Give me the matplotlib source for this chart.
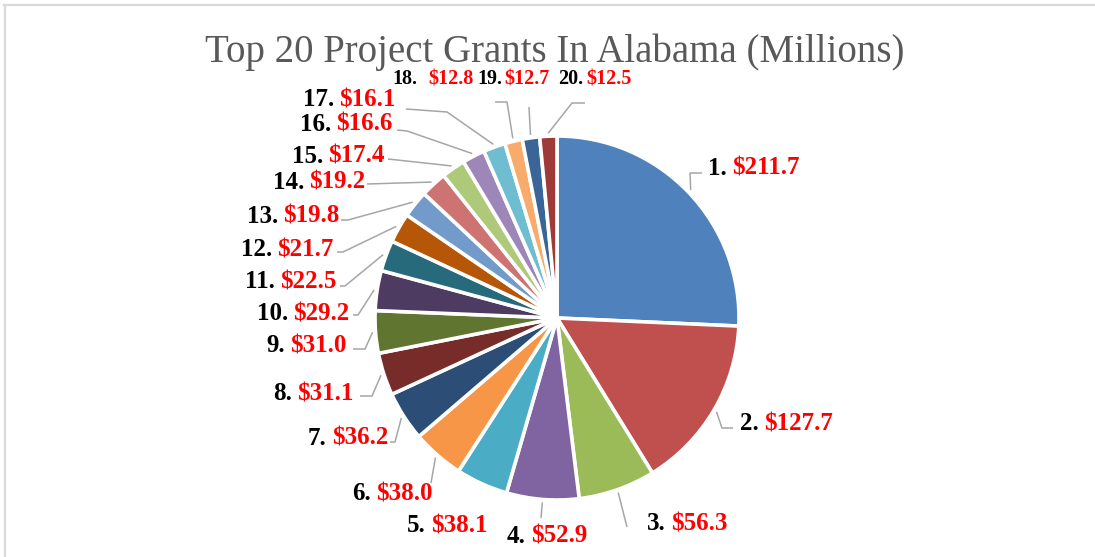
import numpy as np
import matplotlib
matplotlib.use("Agg")
import matplotlib.pyplot as plt
from matplotlib.lines import Line2D

# chart data
ranks = list(range(1, 21))
grants = [211.7, 127.7, 56.3, 52.9, 38.1, 38.0, 36.2, 31.1, 31.0, 29.2,
          22.5, 21.7, 19.8, 19.2, 17.4, 16.6, 16.1, 12.8, 12.7, 12.5]
title = "Top 20 Project Grants In Alabama (Millions)"

colors = ["#4F81BD", "#C0504D", "#9BBB59", "#8064A2", "#4BACC6", "#F79646",
          "#2C4D75", "#772C2A", "#5F7530", "#4D3B62", "#276A7C", "#B65708",
          "#729ACA", "#CD7371", "#AFC97A", "#9C87B8", "#6FBDD1", "#F9AB6B",
          "#3A6597", "#9E3A38"]

# layout (pixel coords, y down)
W, H = 1095, 557
CX, CY, R = 557, 318, 182

# label anchor: x, baseline y, side ('l' = text starts at x, 'r' = text ends at x)
label_pos = [
    (708, 175, "l"), (740, 430, "l"), (647, 530, "l"), (507, 543, "l"),
    (407, 532, "l"), (352, 500, "l"), (388, 445, "r"), (353, 400, "r"),
    (346, 352, "r"), (349, 320, "r"), (336, 288, "r"), (333, 256, "r"),
    (339, 223, "r"), (365, 189, "r"), (385, 163, "r"), (392, 131, "r"),
    (395, 106, "r"), (392, 84, "l"), (477, 84, "l"), (558, 84, "l"),
]
label_gap = [3.5] * 17 + [8, 2, 2]
label_size = [18] * 17 + [14.5] * 3

# leader line points after the start on the slice edge
leaders = [
    [(690, 173), (702, 173)],
    [(722, 428), (733, 428)],
    [(627, 527)],
    [(541, 518)],
    [],
    [(431, 483)],
    [(395, 442), (390, 442)],
    [(372, 396), (360, 396)],
    [(365, 349), (353, 349)],
    [(358, 315), (353, 315)],
    [(345, 286), (340, 286)],
    [(343, 252), (337, 252)],
    [(348, 220), (341, 220)],
    [(367, 184)],
    [(388, 159)],
    [(407, 131), (397, 130)],
    [(447, 112), (406, 109)],
    [(507, 102), (495, 102)],
    [(529, 107)],
    [(572, 103), (585, 103)],
]

fig = plt.figure(figsize=(W / 100, H / 100), dpi=100)
ax = fig.add_axes([0, 0, 1, 1])

# y axis inverted: counterclock in data == clockwise on screen
wedges, _ = ax.pie(grants, colors=colors, startangle=-90, counterclock=True,
                   center=(CX, CY), radius=R,
                   wedgeprops=dict(edgecolor="white", linewidth=2.6))
ax.set_xlim(0, W)
ax.set_ylim(H, 0)
ax.set_aspect("auto")
ax.axis("off")

# leader lines from slice mid angles
fracs = np.array(grants) / np.sum(grants)
mids = (np.cumsum(fracs) - fracs / 2) * 2 * np.pi
for a, pts in zip(mids, leaders):
    if not pts:
        continue
    sx = CX + (R + 3) * np.sin(a)
    sy = CY - (R + 3) * np.cos(a)
    xs = [sx] + [p[0] for p in pts]
    ys = [sy] + [p[1] for p in pts]
    ax.plot(xs, ys, color="#A6A6A6", linewidth=1.1, solid_capstyle="butt")

# labels: black rank + red value
font = dict(family="Liberation Serif", weight="bold")
for rank, val, (x, y, side), gap, fs in zip(ranks, grants, label_pos, label_gap, label_size):
    num = f"{rank}."
    amt = f"${val:.1f}"
    if side == "l":
        t = ax.text(x, y, num, ha="left", va="baseline", color="black", fontsize=fs, **font)
        ax.annotate(amt, xy=(1, 0), xycoords=t, xytext=(gap, 0), textcoords="offset points",
                    ha="left", va="bottom", color="#FF0000", fontsize=fs, **font)
    else:
        t = ax.text(x, y, amt, ha="right", va="baseline", color="#FF0000", fontsize=fs, **font)
        ax.annotate(num, xy=(0, 0), xycoords=t, xytext=(-gap, 0), textcoords="offset points",
                    ha="right", va="bottom", color="black", fontsize=fs, **font)

ax.text(W / 2 + 7, 62, title, ha="center", va="baseline", fontsize=28,
        family="Liberation Serif", color="#595959")

# chart frame (top and left edges visible)
fig.add_artist(Line2D([4 / W, 1], [1 - 5 / H, 1 - 5 / H], color="#D9D9D9", linewidth=1.6))
fig.add_artist(Line2D([5 / W, 5 / W], [0, 1 - 5 / H], color="#D9D9D9", linewidth=1.6))

fig.savefig("out.png", dpi=100, facecolor="white")
